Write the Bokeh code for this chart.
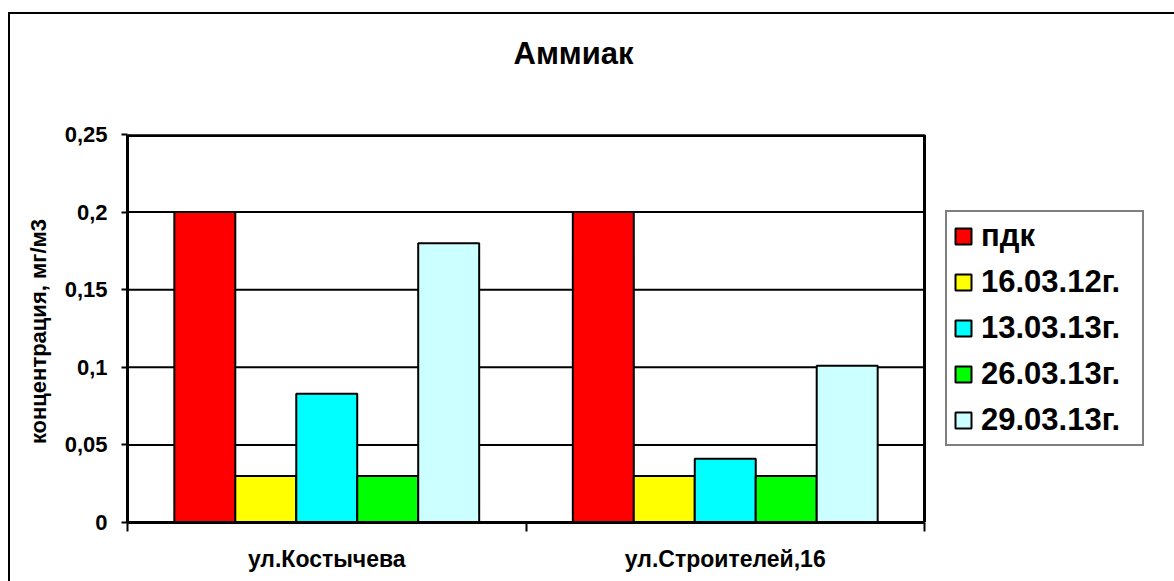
from bokeh.plotting import figure
from bokeh.models import (ColumnDataSource, FixedTicker, CustomJSTickFormatter,
                          Legend, LegendItem, Range1d, Title)
from bokeh.transform import dodge
from bokeh.embed import file_html
from bokeh.resources import INLINE

# ---- data ----
title_text = "Аммиак"
y_label = "концентрация,  мг/м3"
categories = ["ул.Костычева", "ул.Строителей,16"]
series_names = ["пдк", "16.03.12г.", "13.03.13г.", "26.03.13г.", "29.03.13г."]
series_colors = ["#FF0000", "#FFFF00", "#00FFFF", "#00FF00", "#CCFFFF"]
pdk = [0.2, 0.2]
d_16_03_12 = [0.03, 0.03]
d_13_03_13 = [0.083, 0.041]
d_26_03_13 = [0.03, 0.03]
d_29_03_13 = [0.18, 0.101]
series_values = [pdk, d_16_03_12, d_13_03_13, d_26_03_13, d_29_03_13]
y_ticks = [0, 0.05, 0.1, 0.15, 0.2, 0.25]
y_max = 0.25

FONT = "Liberation Sans"

# layout (pixels)
W, H = 1174, 581
PLOT_L, PLOT_R, PLOT_T, PLOT_B = 127, 924, 134, 522

n_cat = len(categories)
data = {"xc": [i + 0.5 for i in range(n_cat)]}
for i, vals in enumerate(series_values):
    data[f"s{i}"] = vals
src = ColumnDataSource(data)

# frame extends to the right edge so the legend can sit inside it;
# the plot area proper spans x in [0, n_cat]
x_end = n_cat * (W - PLOT_L) / (PLOT_R - PLOT_L)

p = figure(width=W, height=H, output_backend="svg", toolbar_location=None,
           title_location=None,
           x_range=Range1d(0, x_end), y_range=Range1d(0, y_max),
           min_border_left=PLOT_L, min_border_right=0, min_border_top=PLOT_T,
           min_border_bottom=H - PLOT_B,
           styles={"background": "linear-gradient(#000,#000) 8px 12px / 100% 2px no-repeat, "
                                 "linear-gradient(#000,#000) 8px 12px / 2px 100% no-repeat, #fff"})
p.border_fill_alpha = 0
p.background_fill_color = "white"
p.outline_line_color = None

# spacer between plot area and title, then the title itself
p.add_layout(Title(text=" ", text_font_size="10px", standoff=51), "above")
p.add_layout(Title(text=title_text, align="left", offset=386, standoff=0,
                   text_font=FONT, text_font_style="bold", text_font_size="31px",
                   text_color="black"), "above")

# horizontal grid lines and plot-area border, limited to the plot area
grid_y = [t for t in y_ticks if t > 0]
p.segment(x0=[0] * len(grid_y), x1=[n_cat] * len(grid_y), y0=grid_y, y1=grid_y,
          line_color="black", line_width=2)
p.segment(x0=[0], x1=[n_cat], y0=[y_max], y1=[y_max], line_color="black", line_width=5)
p.segment(x0=[n_cat], x1=[n_cat], y0=[0], y1=[y_max], line_color="black", line_width=3)

bw = 0.153
items = []
n = len(series_names)
for i, (name, col) in enumerate(zip(series_names, series_colors)):
    r = p.vbar(x=dodge("xc", (i - (n - 1) / 2) * bw, range=p.x_range), top=f"s{i}",
               bottom=0, width=bw, source=src, fill_color=col,
               line_color="black", line_width=2)
    items.append(LegendItem(label=name, renderers=[r]))

# y axis
p.yaxis.ticker = FixedTicker(ticks=y_ticks, minor_ticks=[])
p.yaxis.formatter = CustomJSTickFormatter(
    code="return (Math.round(tick*100)/100).toString().replace('.', ',');")
p.yaxis.axis_line_width = 3
p.yaxis.major_tick_out = 6
p.yaxis.major_tick_in = 0
p.yaxis.major_tick_line_width = 2
p.yaxis.minor_tick_line_color = None
p.yaxis.major_label_text_font = FONT
p.yaxis.major_label_text_font_style = "bold"
p.yaxis.major_label_text_font_size = "22px"
p.yaxis.major_label_text_color = "black"
p.yaxis.major_label_standoff = 14
p.yaxis.axis_label = y_label
p.yaxis.axis_label_text_font = FONT
p.yaxis.axis_label_text_font_style = "bold"
p.yaxis.axis_label_text_font_size = "22px"
p.yaxis.axis_label_text_color = "black"
p.yaxis.axis_label_standoff = 11

# x axis: labels at category centres, ticks at boundaries
p.xaxis.bounds = (0, n_cat)
p.xaxis.ticker = FixedTicker(ticks=data["xc"], minor_ticks=list(range(n_cat + 1)))
p.xaxis.formatter = CustomJSTickFormatter(args=dict(labels=categories),
                                          code="return labels[Math.floor(tick)];")
p.xaxis.axis_line_width = 3
p.xaxis.major_tick_line_color = None
p.xaxis.major_tick_out = 9
p.xaxis.major_tick_in = 0
p.xaxis.minor_tick_out = 9
p.xaxis.minor_tick_in = 0
p.xaxis.minor_tick_line_width = 2
p.xaxis.minor_tick_line_color = "black"
p.xaxis.major_label_text_font = FONT
p.xaxis.major_label_text_font_style = "bold"
p.xaxis.major_label_text_font_size = "23px"
p.xaxis.major_label_text_color = "black"
p.xaxis.major_label_standoff = 14

p.xgrid.visible = False
p.ygrid.visible = False

legend = Legend(items=items, location=(818, 76), orientation="vertical")
legend.label_text_font = FONT
legend.label_text_font_style = "bold"
legend.label_text_font_size = "31px"
legend.label_text_color = "black"
legend.glyph_width = 20
legend.glyph_height = 20
legend.label_height = 20
legend.label_width = 155
legend.label_standoff = 8
legend.spacing = 10
legend.padding = 6
legend.margin = 0
legend.border_line_color = "black"
legend.border_line_width = 2
legend.background_fill_color = "white"
legend.background_fill_alpha = 1
p.add_layout(legend, "center")

open("out.html", "w").write(file_html(p, INLINE))
